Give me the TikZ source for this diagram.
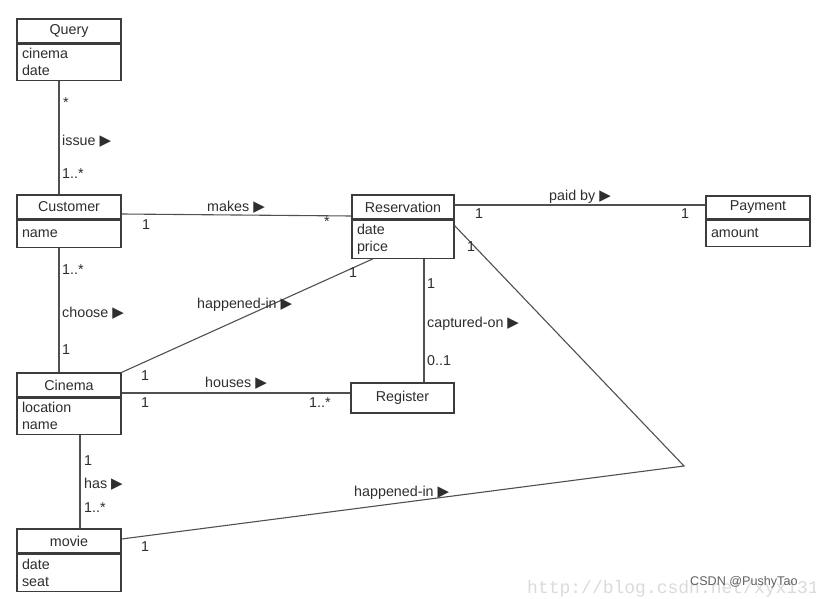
\documentclass[tikz,border=0pt]{standalone}
\usepackage{fontspec}
\setmainfont{Liberation Sans}
\newfontfamily\symf{DejaVu Sans}
\newfontfamily\wmfont{Liberation Mono}
\newcommand\tri{{\symf\fontsize{15}{15}\selectfont\char"25B6}}
\definecolor{boxc}{HTML}{3C3C3C}
\definecolor{linec}{HTML}{505050}
\definecolor{txtc}{HTML}{2E2E2E}
\begin{document}
\begin{tikzpicture}[x=1pt,y=-1pt,
  font=\fontsize{14.3}{17}\selectfont,
  hdr/.style={draw=boxc, line width=1.2pt, minimum width=#1, minimum height=24pt, inner sep=0pt, text=txtc},
  hdr/.default=104pt,
  body/.style={draw=boxc, line width=1.2pt, anchor=north, inner xsep=5pt, inner ysep=0pt, align=left, text=txtc},
  conn/.style={draw=linec, line width=1.1pt},
  lbl/.style={text=txtc, inner sep=0pt},
  lblw/.style={text=txtc, inner sep=0pt, anchor=west}]
\useasboundingbox (0,0) rectangle (816,599);
\fill[white] (0,0) rectangle (816,599);

% watermark
\begin{scope}
\clip (0,0) rectangle (816,599);
\node[anchor=west, inner sep=0pt, text=black!14, font=\wmfont\fontsize{18}{18}\selectfont] (wm) at (527,589) {http://blog.csdn.net/xyx1311};
\end{scope}
\node[anchor=west, inner sep=0pt, text=black!62, font=\fontsize{12.6}{14}\selectfont] (csdn) at (690,582) {CSDN @PushyTao};

% classes
\node[hdr] (queryh) at (69,31) {Query};
\node[body, text width=94pt, minimum height=36pt] (queryb) at (queryh.south) {cinema\\date};

\node[hdr] (custh) at (69,207) {Customer};
\node[body, text width=94pt, minimum height=27pt] (custb) at (custh.south) {name};

\node[hdr=102pt] (resh) at (403,207) {Reservation};
\node[body, text width=92pt, minimum height=38pt] (resb) at (resh.south) {date\\price};

\node[hdr, minimum height=23pt] (payh) at (758,207.5) {Payment};
\node[body, text width=94pt, minimum height=26pt] (payb) at (payh.south) {amount};

\node[hdr] (cinh) at (69,385) {Cinema};
\node[body, text width=94pt, minimum height=36pt] (cinb) at (cinh.south) {location\\name};

\node[hdr=103pt, minimum height=30pt] (reg) at (402.5,398) {Register};

\node[hdr] (movh) at (69,541) {movie};
\node[body, text width=94pt, minimum height=37pt] (movb) at (movh.south) {date\\seat};

\coordinate (bend) at (684,466);

% connectors
\draw[conn] ([xshift=-10pt]queryb.south) -- ([xshift=-10pt]custh.north);
\draw[conn] ([yshift=-7pt]custh.east) -- ([yshift=-9pt]resh.west);
\draw[conn] ([yshift=2pt]resh.east) -- ([yshift=2.5pt]payh.west);
\draw[conn] ([xshift=-10pt]custb.south) -- ([xshift=-10pt]cinh.north);
\draw[conn] (cinh.north east) -- ([xshift=-30pt]resb.south);
\draw[conn] ([yshift=-8pt]cinh.east) -- ([yshift=5pt]reg.west);
\draw[conn] ([xshift=21pt]resb.south) -- ([xshift=21.5pt]reg.north);
\draw[conn] ([yshift=-6pt]resb.north east) -- (bend) -- ([yshift=2pt]movh.east);
\draw[conn] ([xshift=11pt]cinb.south) -- ([xshift=11pt]movh.north);

% labels
\node[lbl] (m1) at (66,103) {*};
\node[lblw] (a1) at (62,141) {issue \tri};
\node[lblw] (m2) at (62,174) {1..*};

\node[lbl] (m3) at (146,225) {1};
\node[lblw] (a2) at (207,207) {makes \tri};
\node[lbl] (m4) at (327,222) {*};

\node[lbl] (m5) at (479,214) {1};
\node[lblw] (a3) at (549,197) {paid by \tri};
\node[lbl] (m6) at (685,214) {1};

\node[lblw] (m7) at (62,270) {1..*};
\node[lblw] (a4) at (62,313) {choose \tri};
\node[lbl] (m8) at (66,350) {1};

\node[lbl] (m9) at (353,273) {1};
\node[lblw] (a5) at (197,305) {happened-in \tri};
\node[lbl] (m10) at (145,376) {1};

\node[lblw] (a6) at (205,383) {houses \tri};
\node[lbl] (m11) at (145,403) {1};
\node[lblw] (m12) at (309,403) {1..*};

\node[lbl] (m13) at (431,284) {1};
\node[lblw] (a7) at (427,324) {captured-on \tri};
\node[lblw] (m14) at (427,361) {0..1};

\node[lbl] (m15) at (471,247) {1};
\node[lblw] (a8) at (354,493) {happened-in \tri};
\node[lbl] (m16) at (145,547) {1};

\node[lbl] (m17) at (88,461) {1};
\node[lblw] (a9) at (84,484) {has \tri};
\node[lblw] (m18) at (84,508) {1..*};
\end{tikzpicture}
\end{document}
